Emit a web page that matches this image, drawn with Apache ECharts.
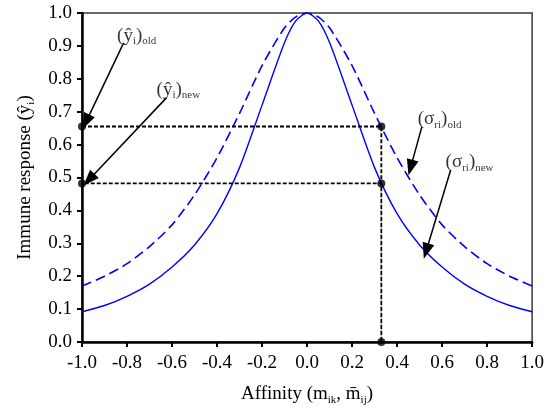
<!DOCTYPE html>
<html>
<head>
<meta charset="utf-8">
<script src="https://cdn.jsdelivr.net/npm/echarts@6/dist/echarts.min.js"></script>
<style>
  html, body { margin: 0; padding: 0; background: #fff; }
  #container { width: 547px; height: 411px; }
</style>
</head>
<body>
<div id="container"></div>
<script>
// affinity values (x)
var affinity = [-1.0, -0.9, -0.8, -0.7, -0.6, -0.5, -0.4, -0.3, -0.2, -0.1, -0.05, 0.0,
                0.05, 0.1, 0.2, 0.3, 0.4, 0.5, 0.6, 0.7, 0.8, 0.9, 1.0];
// response with the old (wider) sigma - dashed
var responseOld = [0.170, 0.200, 0.238, 0.290, 0.356, 0.447, 0.560, 0.695, 0.840, 0.955, 0.988, 1.0,
                   0.988, 0.955, 0.840, 0.695, 0.560, 0.447, 0.356, 0.290, 0.238, 0.200, 0.170];
// response with the new (narrower) sigma - solid
var responseNew = [0.092, 0.111, 0.139, 0.176, 0.228, 0.295, 0.390, 0.530, 0.720, 0.910, 0.976, 1.0,
                   0.976, 0.910, 0.720, 0.530, 0.390, 0.295, 0.228, 0.176, 0.139, 0.111, 0.092];

// reference levels
var refX = 0.33;
var yOld = 0.655;
var yNew = 0.482;

// annotation arrows: [from, to]
var arrows = [
  [[-0.815, 0.909], [-0.982, 0.669]],
  [[-0.625, 0.742], [-0.969, 0.493]],
  [[0.510, 0.654], [0.460, 0.530]],
  [[0.638, 0.523], [0.529, 0.276]]
];
// annotation labels: [x, y, text]
var notes = [
  [-0.757, 0.939, '{p|(ŷ}{s|i}{p|)}{s|old}'],
  [-0.572, 0.775, '{p|(ŷ}{s|i}{p|)}{s|new}'],
  [0.589, 0.684, '{p|(σ}{s|ri}{p|)}{s|old}'],
  [0.722, 0.554, '{p|(σ}{s|ri}{p|)}{s|new}']
];

var serif = "'Liberation Serif', 'Times New Roman', serif";

function zip(xs, ys) {
  return xs.map(function(x, i) { return [x, ys[i]]; });
}

function richText(big) {
  return {
    p: { fontFamily: serif, fontSize: big, color: '#000', lineHeight: 24, verticalAlign: 'bottom' },
    t: { fontFamily: serif, fontSize: big, color: '#000', lineHeight: 24, verticalAlign: 'bottom' },
    s: { fontFamily: serif, fontSize: 11, color: '#000', lineHeight: 24, verticalAlign: 'bottom', padding: [0, 0, -2, 0] }
  };
}

var myChart = echarts.init(document.getElementById('container'));
var option = {
  animation: false,
  backgroundColor: '#fff',
  grid: {
    left: 82, right: 12, top: 13, bottom: 69,
    show: true, borderColor: '#3a3a3a', borderWidth: 1.5
  },
  xAxis: {
    type: 'value', min: -1, max: 1, interval: 0.2,
    name: '{t|Affinity (m}{s|ik}{t|, m\u0304}{s|ij}{t|)}',
    nameLocation: 'middle', nameGap: 38,
    nameTextStyle: { rich: richText(19) },
    axisLine: { show: true, onZero: false, lineStyle: { color: '#000', width: 2.5 } },
    axisTick: { show: true, length: 5, lineStyle: { color: '#000', width: 2 } },
    axisLabel: {
      margin: 12, color: '#000', fontFamily: serif, fontSize: 19,
      formatter: function(v) { return v.toFixed(1); }
    },
    splitLine: { show: false }
  },
  yAxis: {
    type: 'value', min: 0, max: 1, interval: 0.1,
    name: '{t|Immune response (ŷ}{s|i}{t|)}',
    nameLocation: 'middle', nameGap: 47, nameRotate: 90,
    nameTextStyle: { rich: richText(19) },
    axisLine: { show: true, onZero: false, lineStyle: { color: '#000', width: 2.5 } },
    axisTick: { show: true, length: 5, lineStyle: { color: '#000', width: 2 } },
    axisLabel: {
      margin: 10, color: '#000', fontFamily: serif, fontSize: 19,
      formatter: function(v) { return v.toFixed(1); }
    },
    splitLine: { show: false }
  },
  series: [
    {
      name: 'old', type: 'line', data: zip(affinity, responseOld),
      showSymbol: false, smooth: 0.25,
      lineStyle: { color: '#0000ff', width: 1.6, type: [10, 5] }
    },
    {
      name: 'new', type: 'line', data: zip(affinity, responseNew),
      showSymbol: false, smooth: 0.25,
      lineStyle: { color: '#0000ff', width: 1.4 }
    },
    {
      name: 'guides', type: 'line', showSymbol: false, silent: true,
      data: [[-1, yOld], [refX, yOld], [refX, 0], [refX, yNew], [-1, yNew]],
      lineStyle: { color: '#000', width: 1.8, type: [4, 2] },
      z: 3
    },
    {
      name: 'dots', type: 'scatter', symbolSize: 8,
      itemStyle: { color: '#000' },
      data: [[-1, yOld], [-1, yNew], [refX, yOld], [refX, yNew], [refX, 0]],
      clip: false, z: 5
    },
    {
      name: 'notes', type: 'scatter', symbolSize: 0, clip: false,
      data: notes.map(function(n) { return { value: [n[0], n[1]], label: { formatter: n[2] } }; }),
      label: { show: true, position: 'inside', rich: richText(19) },
      markLine: {
        silent: true, symbol: ['none', 'triangle'], symbolSize: [12, 16],
        label: { show: false },
        lineStyle: { color: '#000', width: 1.5, type: 'solid' },
        data: arrows.map(function(a) { return [{ coord: a[0] }, { coord: a[1] }]; })
      },
      z: 6
    }
  ]
};
myChart.setOption(option);
</script>
</body>
</html>
